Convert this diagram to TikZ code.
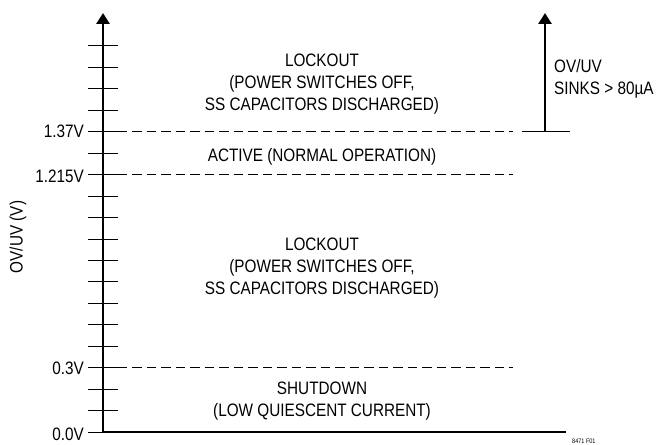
\documentclass[tikz,border=0pt]{standalone}
\usepackage{fontspec}
\setmainfont{Liberation Sans}[FakeStretch=0.85]
\usetikzlibrary{arrows.meta,positioning,calc}

\tikzset{
    ovAxis/.style={line width=2.8pt,-{Triangle[length=11pt,width=13pt]}},
    ovTick/.style={line width=0.9pt},
    ovLevel/.style={line width=0.9pt,dash pattern=on 9.5pt off 5pt},
    ovRegion/.style={align=center,inner sep=0pt,font=\fontsize{18}{22}\selectfont},
    ovVal/.style={anchor=east,inner sep=0pt,font=\fontsize{18}{20}\selectfont}
}

\begin{document}
\begin{tikzpicture}[x=1pt,y=-1pt]
        \useasboundingbox (0,0) rectangle (660,444);

        % axes
        \coordinate (orig) at (103,432);
        \coordinate (top) at (103,13);
        \coordinate (xend) at (566,432);
        \foreach \k in {1,...,18}
            \draw[ovTick] (88,{432-21.45*\k}) -- (118,{432-21.45*\k});
        \draw[ovTick] (88,432) -- (orig);
        \draw[ovAxis] (orig) -- (top);
        \draw[line width=2.8pt] (orig) -- (xend);

        % thresholds
        \coordinate (th137) at (103,131.7);
        \coordinate (th1215) at (103,174.6);
        \coordinate (th03) at (103,367.6);
        \coordinate (e137) at (513,131.7);
        \coordinate (e1215) at (513,174.6);
        \coordinate (e03) at (513,367.6);
        \draw[ovLevel] (th137) -- (e137);
        \draw[ovLevel] (th1215) -- (e1215);
        \draw[ovLevel] (th03) -- (e03);

        \node[ovVal] (v137) at (84,131.7) {1.37V};
        \node[ovVal] (v1215) at (84,176) {1.215V};
        \node[ovVal] (v03) at (84,368) {0.3V};
        \node[ovVal] (v00) at (84,434) {0.0V};
        \node[rotate=90,inner sep=0pt,font=\fontsize{18}{20}\selectfont] (ylab) at (18,237) {OV/UV (V)};

        % sink arrow
        \coordinate (sl) at (522,131.7);
        \coordinate (sr) at (570,131.7);
        \coordinate (sb) at (545,131.7);
        \coordinate (st) at (545,13);
        \draw[ovTick] (sl) -- (sr);
        \draw[ovAxis] (sb) -- (st);
        \node[ovRegion,align=left,anchor=west] (sink) at (554,79)
            {OV/UV\\SINKS > 80µA};

        % regions
        \node[ovRegion] (lockhi) at (322,84)
            {LOCKOUT\\(POWER SWITCHES OFF,\\SS CAPACITORS DISCHARGED)};
        \node[ovRegion] (active) at (322,157) {ACTIVE (NORMAL OPERATION)};
        \node[ovRegion] (locklo) at (322,268)
            {LOCKOUT\\(POWER SWITCHES OFF,\\SS CAPACITORS DISCHARGED)};
        \node[ovRegion] (shut) at (322,401)
            {SHUTDOWN\\(LOW QUIESCENT CURRENT)};

        \node[anchor=west,inner sep=0pt,font=\fontsize{6.5}{7}\selectfont] (fig) at (572,441) {8471 F01};
\end{tikzpicture}
\end{document}
